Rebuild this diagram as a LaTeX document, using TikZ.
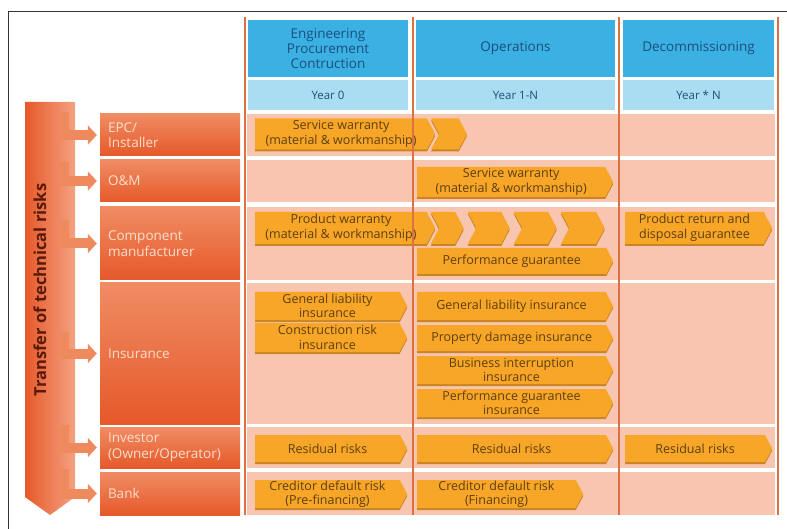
\documentclass[tikz,border=0pt]{standalone}
\usepackage{fontspec}
\setmainfont{Open Sans}
\usetikzlibrary{shapes.symbols,arrows.meta,shadows}

\definecolor{hdblue}{HTML}{3BB0E3}
\definecolor{yrblue}{HTML}{AADCF2}
\definecolor{hdtext}{HTML}{1D4F7C}
\definecolor{cell}{HTML}{F8C6B0}
\definecolor{rule}{HTML}{DC7244}
\definecolor{bannerfill}{HTML}{F7A627}
\definecolor{bannershade}{HTML}{C98424}
\definecolor{bannertext}{HTML}{5E3E12}
\definecolor{actdark}{HTML}{E6592A}
\definecolor{actlight}{HTML}{F08C64}
\definecolor{acttext}{HTML}{FBE0CC}
\definecolor{bandlight}{HTML}{F4A282}
\definecolor{arrowlight}{HTML}{EF8A5E}
\definecolor{bandtext}{HTML}{5A1A0A}

\begin{document}
\begin{tikzpicture}[x=1pt,y=-1pt,
    banner/.style={signal, signal to=east, signal pointer angle=124, fill=bannerfill,
        inner sep=0pt, anchor=west, align=center, text=bannertext,
        font=\fontsize{12.5}{14.5}\selectfont,
        drop shadow={shadow xshift=0pt, shadow yshift=-2pt, fill=bannershade, opacity=1}},
    notchbanner/.style={banner, signal from=west},
    actor/.style={rectangle, top color=actlight, bottom color=actdark, text=acttext,
        text width=124pt, inner xsep=8pt, inner ysep=0pt, align=left,
        font=\fontsize{13.5}{15.5}\selectfont},
    phase/.style={rectangle, fill=hdblue, text=hdtext, inner sep=0pt, align=center,
        minimum height=57pt, font=\fontsize{13.5}{15}\selectfont},
    year/.style={rectangle, fill=yrblue, text=hdtext, inner sep=0pt,
        minimum height=30pt, font=\fontsize{11.5}{13}\selectfont},
    transfer/.style={line width=10pt, draw=arrowlight, -{Triangle[length=9pt,width=19pt]},
        shorten >=3pt},
    divider/.style={draw=rule, line width=1.5pt}]

            \useasboundingbox (0,0) rectangle (787,529);
            \draw[line width=0.8pt, black!80] (8,529) -- (8,11) -- (787,11);

            % phase headers
            \node[phase, minimum width=160pt] (hEPC) at (328,48.5) {Engineering\\Procurement\\Contruction};
            \node[phase, minimum width=199pt] (hOps) at (515.5,48.5) {Operations};
            \node[phase, minimum width=151pt] (hDec) at (698.5,48.5) {Decommissioning};

            \node[year, minimum width=160pt] (yEPC) at (328,95) {Year 0};
            \node[year, minimum width=199pt] (yOps) at (515.5,95) {Year 1-N};
            \node[year, minimum width=151pt] (yDec) at (698.5,95) {Year * N};

            % rows
            \fill[cell] (247,114) rectangle (775,156);
            \fill[cell] (247,160) rectangle (775,202);
            \fill[cell] (247,207) rectangle (775,280);
            \fill[cell] (247,283) rectangle (775,424);
            \fill[cell] (247,427) rectangle (775,468);
            \fill[cell] (247,472) rectangle (775,515);

            \node[actor, minimum height=42pt] (epc) at (170,135) {EPC/\\Installer};
            \node[actor, minimum height=42pt] (om) at (170,181) {O\&M};
            \node[actor, minimum height=73pt] (comp) at (170,243.5) {Component\\manufacturer};
            \node[actor, minimum height=141pt] (ins) at (170,353.5) {Insurance};
            \node[actor, minimum height=41pt] (inv) at (170,447.5) {Investor\\(Owner/Operator)};
            \node[actor, minimum height=43pt] (bank) at (170,493.5) {Bank};

            % transfer band
            \path[left color=actdark, right color=bandlight] (25,102) -- (75,102) -- (75,497) -- (50,515) -- (25,497) -- cycle;
            \node[rotate=90, text=bandtext, font=\bfseries\fontsize{16.5}{18}\selectfont] (band) at (40,290) {Transfer of technical risks};

            \draw[transfer] (64,112) |- (epc.west);
            \draw[transfer] (64,162) |- (om.west);
            \draw[transfer] (64,220) |- (comp.west);
            \draw[transfer] (64,332) |- (ins.west);
            \draw[transfer] (64,425) |- (inv.west);
            \draw[transfer] (64,469) |- (bank.west);

            % EPC / installer
            \node[banner, minimum width=180pt, minimum height=31pt] (swEPC) at (255,134) {Service warranty\\(material \& workmanship)};
            \node[notchbanner, minimum width=36pt, minimum height=31pt] (swEPCa) at (439,134) {};

            % O&M
            \node[banner, minimum width=196pt, minimum height=30pt] (swOps) at (417,182) {Service warranty\\(material \& workmanship)};

            % component manufacturer
            \node[banner, minimum width=180pt, minimum height=32pt] (pwEPC) at (255,228) {Product warranty\\(material \& workmanship)};
            \node[notchbanner, minimum width=33pt, minimum height=32pt] (pwa) at (439,228) {};
            \node[notchbanner, minimum width=42pt, minimum height=32pt] (pwb) at (476,228) {};
            \node[notchbanner, minimum width=43pt, minimum height=32pt] (pwc) at (522,228) {};
            \node[notchbanner, minimum width=44pt, minimum height=32pt] (pwd) at (569,228) {};
            \node[banner, minimum width=147pt, minimum height=32pt] (prDec) at (625,228) {Product return and\\disposal guarantee};
            \node[banner, minimum width=196pt, minimum height=26pt] (pgOps) at (417,261) {Performance guarantee};

            % insurance
            \node[banner, minimum width=152pt, minimum height=28pt] (glEPC) at (255,306) {General liability\\insurance};
            \node[banner, minimum width=152pt, minimum height=29pt] (crEPC) at (255,337.5) {Construction risk\\insurance};
            \node[banner, minimum width=196pt, minimum height=28pt] (glOps) at (417,306) {General liability insurance};
            \node[banner, minimum width=196pt, minimum height=26pt] (pdOps) at (417,338) {Property damage insurance};
            \node[banner, minimum width=196pt, minimum height=28pt] (biOps) at (417,370) {Business interruption\\insurance};
            \node[banner, minimum width=196pt, minimum height=28pt] (pgiOps) at (417,403) {Performance guarantee\\insurance};

            % investor
            \node[banner, minimum width=152pt, minimum height=27pt] (rrEPC) at (255,448.5) {Residual risks};
            \node[banner, minimum width=196pt, minimum height=27pt] (rrOps) at (417,448.5) {Residual risks};
            \node[banner, minimum width=147pt, minimum height=27pt] (rrDec) at (625,448.5) {Residual risks};

            % bank
            \node[banner, minimum width=152pt, minimum height=28pt] (cdEPC) at (255,494) {Creditor default risk\\(Pre-financing)};
            \node[banner, minimum width=166pt, minimum height=28pt] (cdOps) at (417,494) {Creditor default risk\\(Financing)};

            % phase dividers
            \draw[divider] (245,17) -- (245,515);
            \draw[divider] (413,17) -- (413,515);
            \draw[divider] (619,17) -- (619,515);
            \draw[divider] (778,17) -- (778,515);

        \end{tikzpicture}
\end{document}
